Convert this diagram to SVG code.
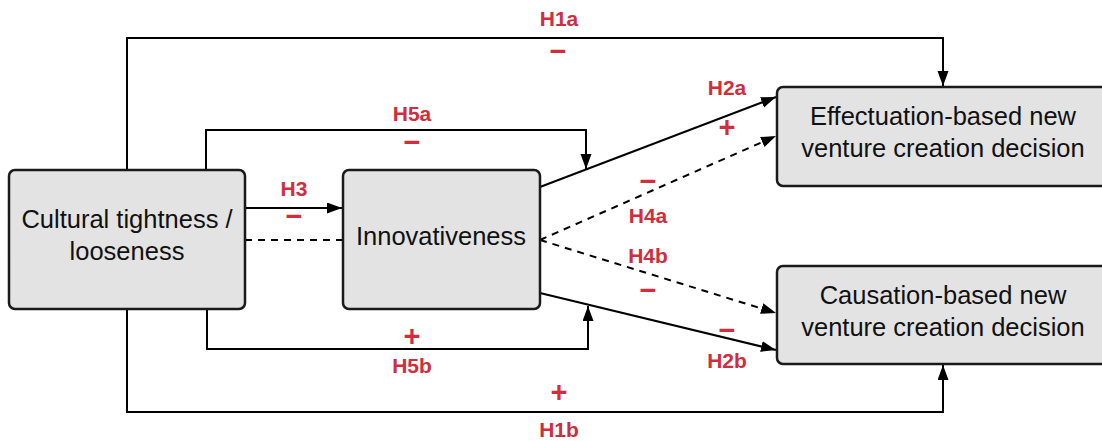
<svg xmlns="http://www.w3.org/2000/svg" width="1102" height="441" viewBox="0 0 1102 441">
<style>
.box{fill:#e3e3e3;stroke:#1a1a1a;stroke-width:2.5}
.nt{font-family:"Liberation Sans",Arial,sans-serif;font-size:25.5px;fill:#111;text-anchor:middle}
.ln{fill:none;stroke:#000;stroke-width:2}
.dash{stroke-dasharray:7 6}
.lb{font-family:"Liberation Sans",Arial,sans-serif;font-size:21px;font-weight:bold;fill:#cf2e3d;text-anchor:middle}
.sg{font-family:"Liberation Sans",Arial,sans-serif;font-size:29px;font-weight:bold;fill:#cf2e3d;text-anchor:middle;dominant-baseline:central}
</style>
<defs>
<marker id="ah" markerUnits="userSpaceOnUse" markerWidth="16" markerHeight="12" refX="15" refY="5.5" orient="auto">
<path d="M0,0 L15,5.5 L0,11 Z" fill="#000"/>
</marker>
</defs>
<g id="connectors">
<path class="ln" d="M127,170 V38 H943 V86" marker-end="url(#ah)"/>
<path class="ln" d="M127,309 V412 H943 V365" marker-end="url(#ah)"/>
<path class="ln" d="M206,170 V130 H586 V169" marker-end="url(#ah)"/>
<path class="ln" d="M207,309 V349 H588 V306" marker-end="url(#ah)"/>
<path class="ln" d="M245,208 H342" marker-end="url(#ah)"/>
<path class="ln dash" d="M245,240 H343"/>
<path class="ln" d="M540,187 L776,97" marker-end="url(#ah)"/>
<path class="ln dash" d="M540,240 L776,136" marker-end="url(#ah)"/>
<path class="ln dash" d="M540,240 L776,313" marker-end="url(#ah)"/>
<path class="ln" d="M540,293 L776,350" marker-end="url(#ah)"/>
</g>
<g id="labels">
<text class="lb" x="559" y="26">H1a</text>
<text class="sg" x="558" y="51">−</text>
<text class="lb" x="412" y="121">H5a</text>
<text class="sg" x="412" y="142">−</text>
<text class="lb" x="294" y="196">H3</text>
<text class="sg" x="294" y="216">−</text>
<text class="lb" x="727" y="95">H2a</text>
<text class="sg" x="727" y="127">+</text>
<text class="sg" x="648" y="181">−</text>
<text class="lb" x="648" y="223">H4a</text>
<text class="lb" x="648" y="263">H4b</text>
<text class="sg" x="648" y="290">−</text>
<text class="sg" x="727" y="330">−</text>
<text class="lb" x="727" y="368">H2b</text>
<text class="sg" x="412" y="336">+</text>
<text class="lb" x="412" y="373">H5b</text>
<text class="sg" x="559" y="392">+</text>
<text class="lb" x="559" y="437">H1b</text>
</g>
<g id="node-culture">
<rect class="box" x="9" y="170" width="236" height="139" rx="6"/>
<text class="nt" x="127" y="228">Cultural tightness /</text>
<text class="nt" x="127" y="260">looseness</text>
</g>
<g id="node-innovativeness">
<rect class="box" x="343" y="170" width="197" height="139" rx="6"/>
<text class="nt" x="441" y="245">Innovativeness</text>
</g>
<g id="node-effectuation">
<rect class="box" x="777" y="87" width="332" height="99" rx="6"/>
<text class="nt" x="943" y="125">Effectuation-based new</text>
<text class="nt" x="943" y="157">venture creation decision</text>
</g>
<g id="node-causation">
<rect class="box" x="777" y="266" width="332" height="98" rx="6"/>
<text class="nt" x="943" y="304">Causation-based new</text>
<text class="nt" x="943" y="336">venture creation decision</text>
</g>
</svg>
